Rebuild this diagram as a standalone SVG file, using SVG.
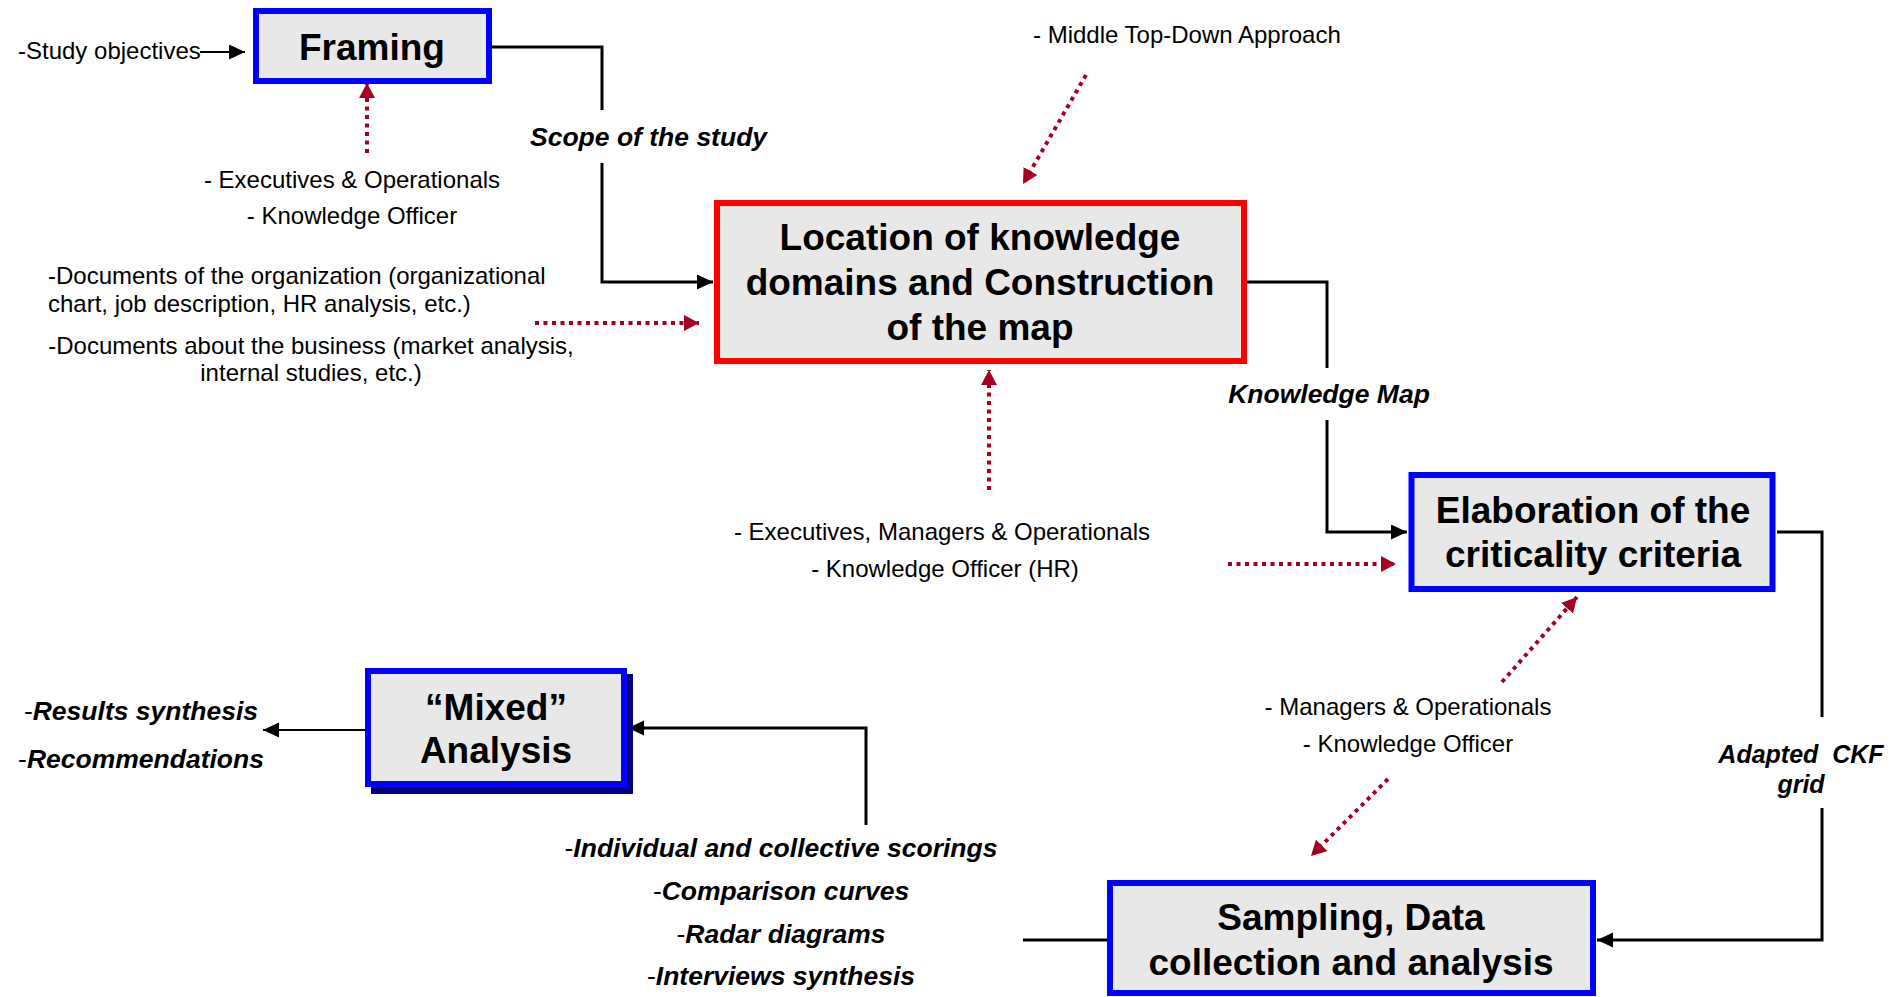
<svg xmlns="http://www.w3.org/2000/svg" width="1899" height="997" viewBox="0 0 1899 997">
<style>
  .box{fill:#E8E8E8;stroke:#0000FF;stroke-width:6}
  .redbox{fill:#E8E8E8;stroke:#FF0000;stroke-width:6}
  .title{font-family:"Liberation Sans",Arial,sans-serif;font-size:37px;font-weight:bold;fill:#000;text-anchor:middle}
  .t{font-family:"Liberation Sans",Arial,sans-serif;font-size:24px;fill:#000}
  .lab{font-family:"Liberation Sans",Arial,sans-serif;font-size:26.5px;font-weight:bold;font-style:italic;fill:#000}
  .mid{text-anchor:middle}
  .dash{font-weight:normal;font-style:normal}
  .conn{fill:none;stroke:#000;stroke-width:3}
  .thin{fill:none;stroke:#000;stroke-width:2}
  .dot{fill:none;stroke:#A50021;stroke-width:4;stroke-dasharray:4 4.5}
</style>
<defs>
  <marker id="ab" markerUnits="userSpaceOnUse" markerWidth="16" markerHeight="16" refX="16" refY="7.5" orient="auto">
    <path d="M0,0 L16,7.5 L0,15 z" fill="#000"/>
  </marker>
  <marker id="ar" markerUnits="userSpaceOnUse" markerWidth="16" markerHeight="17" refX="15" refY="8" orient="auto">
    <path d="M0,0 L15,8 L0,16 z" fill="#A50021"/>
  </marker>
</defs>

<g id="connectors">
  <path class="thin" d="M200,52 H245" marker-end="url(#ab)"/>
  <path class="conn" d="M491,47 H602 V110"/>
  <path class="conn" d="M602,163 V282 H713" marker-end="url(#ab)"/>
  <path class="conn" d="M1247,282 H1327 V368"/>
  <path class="conn" d="M1327,420 V532 H1407" marker-end="url(#ab)"/>
  <path class="conn" d="M1777,532 H1822 V717"/>
  <path class="conn" d="M1822,808 V940 H1597" marker-end="url(#ab)"/>
  <path class="conn" d="M1107,940 H1023"/>
  <path class="conn" d="M866,825 V728 H628" marker-end="url(#ab)"/>
  <path class="thin" d="M365,730 H263" marker-end="url(#ab)"/>

  <path class="dot" d="M367,153 V83" marker-end="url(#ar)"/>
  <path class="dot" d="M1086,75 L1023,184" marker-end="url(#ar)"/>
  <path class="dot" d="M535,323 H699" marker-end="url(#ar)"/>
  <path class="dot" d="M989,490 V370" marker-end="url(#ar)"/>
  <path class="dot" d="M1228,564 H1396" marker-end="url(#ar)"/>
  <path class="dot" d="M1502,682 L1577,597" marker-end="url(#ar)"/>
  <path class="dot" d="M1388,779 L1311,856" marker-end="url(#ar)"/>
</g>

<g id="framing">
  <rect class="box" x="256" y="11" width="233" height="70"/>
  <text class="title" x="372" y="60">Framing</text>
</g>

<g id="location">
  <rect class="redbox" x="717" y="203" width="527" height="158"/>
  <text class="title" x="980" y="250">Location of knowledge</text>
  <text class="title" x="980" y="295">domains and Construction</text>
  <text class="title" x="980" y="340">of the map</text>
</g>

<g id="elaboration">
  <rect class="box" x="1411.5" y="475" width="361" height="114"/>
  <text class="title" x="1593" y="523">Elaboration of the</text>
  <text class="title" x="1593" y="567">criticality criteria</text>
</g>

<g id="sampling">
  <rect class="box" x="1110" y="883" width="483" height="110"/>
  <text class="title" x="1351" y="930">Sampling, Data</text>
  <text class="title" x="1351" y="975">collection and analysis</text>
</g>

<g id="mixed">
  <rect x="371" y="674" width="262" height="120" fill="#000080"/>
  <rect class="box" x="368" y="671" width="256" height="113"/>
  <text class="title" x="496" y="720">“Mixed”</text>
  <text class="title" x="496" y="763">Analysis</text>
</g>

<g id="labels">
  <text class="t" x="18" y="59">-Study objectives</text>
  <text class="t mid" x="352" y="188">- Executives &amp; Operationals</text>
  <text class="t mid" x="352" y="224">- Knowledge Officer</text>
  <text class="t" x="1033" y="43">- Middle Top-Down Approach</text>
  <text class="t" x="48" y="284">-Documents of the organization (organizational</text>
  <text class="t" x="48" y="312">chart, job description, HR analysis, etc.)</text>
  <text class="t mid" x="311" y="354">-Documents about the business (market analysis,</text>
  <text class="t mid" x="311" y="381">internal studies, etc.)</text>
  <text class="t mid" x="942" y="540">- Executives, Managers &amp; Operationals</text>
  <text class="t mid" x="945" y="577">- Knowledge Officer (HR)</text>
  <text class="t mid" x="1408" y="715">- Managers &amp; Operationals</text>
  <text class="t mid" x="1408" y="752">- Knowledge Officer</text>

  <text class="lab" x="530" y="146">Scope of the study</text>
  <text class="lab mid" x="1329" y="403">Knowledge Map</text>
  <text class="lab mid" x="1801" y="763" style="font-size:25px" xml:space="preserve">Adapted  CKF</text>
  <text class="lab mid" x="1801" y="793" style="font-size:25px">grid</text>
  <text class="lab mid" x="141" y="720"><tspan class="dash">-</tspan>Results synthesis</text>
  <text class="lab mid" x="141" y="768"><tspan class="dash">-</tspan>Recommendations</text>
  <text class="lab mid" x="781" y="857"><tspan class="dash">-</tspan>Individual and collective scorings</text>
  <text class="lab mid" x="781" y="900"><tspan class="dash">-</tspan>Comparison curves</text>
  <text class="lab mid" x="781" y="943"><tspan class="dash">-</tspan>Radar diagrams</text>
  <text class="lab mid" x="781" y="985"><tspan class="dash">-</tspan>Interviews synthesis</text>
</g>
</svg>
